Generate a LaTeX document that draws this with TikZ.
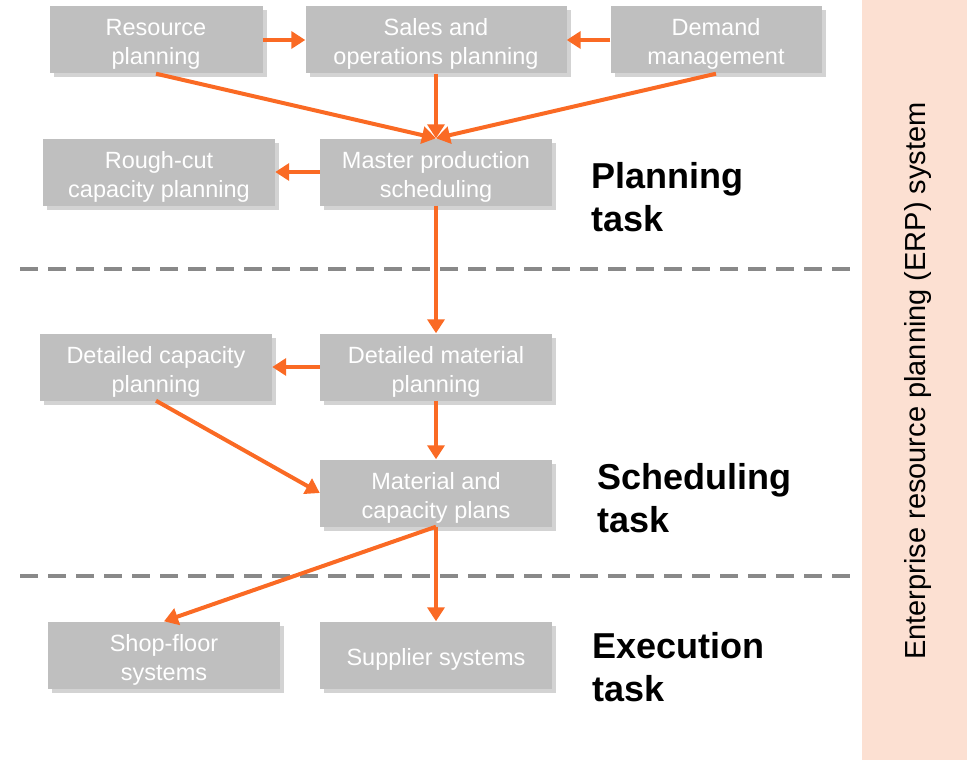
\documentclass[tikz,border=0pt]{standalone}
\usepackage{fontspec}
\setmainfont{Liberation Sans}
\usetikzlibrary{arrows.meta,shadows}
\definecolor{boxgray}{HTML}{BFBFBF}
\definecolor{arrorange}{HTML}{FA6A24}
\definecolor{erppeach}{HTML}{FCE0D2}
\definecolor{sepgray}{HTML}{898989}
\tikzset{
 box/.style={fill=boxgray,text=white,align=center,minimum width=232pt,minimum height=67pt,inner sep=0pt,
  font=\fontsize{23.5}{29}\selectfont,text height=50pt,text depth=0pt,
  drop shadow={shadow xshift=4pt,shadow yshift=-4pt,opacity=.35}},
 flow/.style={arrorange,line width=4pt,-{Triangle[length=14pt,width=17pt]}},
 sep/.style={sepgray,line width=4pt,dash pattern=on 18pt off 10pt},
 task/.style={anchor=west,align=left,font=\fontsize{36}{43}\bfseries\selectfont}
}
\begin{document}
\begin{tikzpicture}[x=1pt,y=-1pt]
\useasboundingbox (0,0) rectangle (967,760);
\fill[erppeach](862,0) rectangle (967,760);
\node[rotate=90,font=\fontsize{29}{34}\selectfont] (erp) at (918,381) {Enterprise resource planning (ERP) system};
\draw[sep](20,269)--(850,269);
\draw[sep](20,576)--(850,576);
\node[box,minimum width=213pt] (res) at (156,40) {Resource\\planning};
\node[box,minimum width=261pt] (sop) at (436,40) {Sales and\\operations planning};
\node[box,minimum width=211pt] (dem) at (716,40) {Demand\\management};
\node[box] (rcc) at (159,172) {Rough-cut\\capacity planning};
\node[box] (mps) at (436,172) {Master production\\scheduling};
\node[box] (dcp) at (156,367) {Detailed capacity\\planning};
\node[box] (dmp) at (436,367) {Detailed material\\planning};
\node[box] (mcp) at (436,493) {Material and\\capacity plans};
\node[box] (shop) at (164,655) {Shop-floor\\systems};
\node[box,text height=20pt] (sup) at (436,655) {Supplier systems};
\node[task] (plan) at (588,197) {Planning\\task};
\node[task] (sched) at (594,498) {Scheduling\\task};
\node[task] (exec) at (589,667) {Execution\\task};
\draw[flow](res)--(sop);
\draw[flow](dem)--(sop);
\draw[flow](sop)--(mps);
\draw[flow](res.south)--(mps.north);
\draw[flow](dem.south)--(mps.north);
\draw[flow](mps)--(rcc);
\draw[flow](mps)--(dmp);
\draw[flow](dmp)--(dcp);
\draw[flow](dmp)--(mcp);
\draw[flow](dcp.south)--(mcp.west);
\draw[flow](mcp.south)--(shop.north);
\draw[flow](mcp)--(sup);
\end{tikzpicture}
\end{document}
